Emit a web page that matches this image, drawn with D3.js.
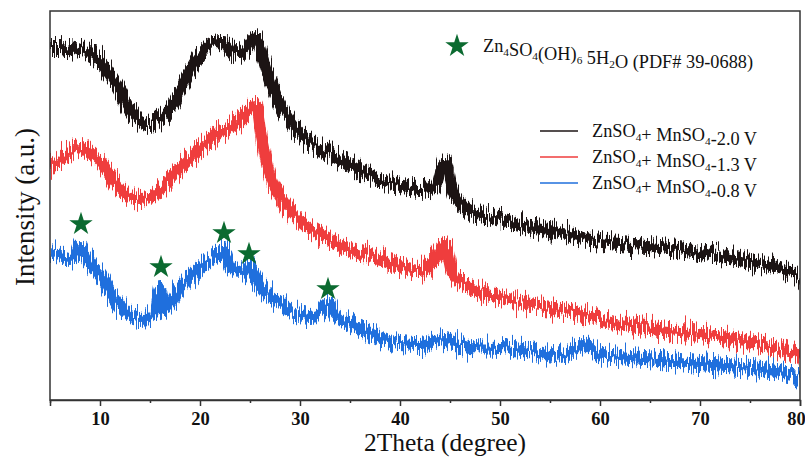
<!DOCTYPE html>
<html>
<head>
<meta charset="utf-8">
<script src="https://cdn.jsdelivr.net/npm/d3@7"></script>
<style>
  body { margin: 0; background: #fff; }
  svg { display: block; }
  text { font-family: "Liberation Serif", "Times New Roman", serif; fill: #111; }
</style>
</head>
<body>
<svg id="chart" width="805" height="457"></svg>
<script>
// 2θ positions (degree) shared by the three patterns
const theta = [5, 6, 7, 7.5, 8, 8.5, 9, 10, 11, 12, 13, 14, 15, 15.6, 16, 16.5, 17, 18, 19, 20, 21, 22,
  22.4, 23, 24, 24.9, 25.6, 26.2, 27, 28, 29, 30, 31, 32, 32.8, 33.5, 35, 37, 40, 42,
  43.5, 44.5, 45.3, 47, 50, 53.5, 55.5, 57, 58.3, 59.5, 62, 66, 70, 74, 77, 80];

// Intensity (a.u., stacked) of each pattern
const int20V = [355, 355, 353, 352, 350, 349, 346, 338, 325, 308, 290, 278, 275, 277, 280, 284, 290, 308, 328, 344, 354, 358,
  358, 350, 346, 355, 362, 345, 320, 295, 278, 267, 259, 252, 248, 244, 235, 225, 214, 210,
  212, 238, 207, 190, 180, 172, 169, 165, 162, 159, 156, 153, 148, 140, 134, 124];
const int13V = [232, 240, 248, 251, 253, 252, 247, 238, 225, 212, 204, 201, 203, 206, 210, 214, 220, 232, 242, 252, 260, 268,
  270, 273, 279, 288, 294, 260, 224, 204, 190, 180, 172, 166, 162, 158, 151, 144, 134, 130,
  140, 155, 125, 112, 103, 95, 91, 88, 85, 82, 76, 70, 66, 60, 54, 44];
const int08V = [148, 145, 142, 144, 154, 145, 137, 125, 108, 94, 84, 82, 85, 92, 110, 90, 95, 112, 122, 132, 140, 146,
  150, 135, 128, 133, 122, 112, 104, 97, 90, 86, 84, 87, 96, 86, 76, 67, 56, 55,
  59, 61, 58, 53, 52, 48, 43, 48, 56, 47, 43, 40, 36, 33, 30, 23];

const seriesNames = ["-2.0 V", "-1.3 V", "-0.8 V"];
const seriesColors = ["#1c1414", "#ef3d3d", "#1f6fdd"];
const seriesValues = [int20V, int13V, int08V];

// Zn4SO4(OH)6·5H2O reflections marked on the -0.8 V pattern
const markerTheta = [8.1, 16.1, 22.4, 24.9, 32.8];
const markerLevel = [176, 133, 167, 146, 111];

const xTicks = [10, 20, 30, 40, 50, 60, 70, 80];
const xMinorTicks = [5, 15, 25, 35, 45, 55, 65, 75];

const svg = d3.select("#chart");
const plot = { left: 50, right: 800, top: 11, bottom: 400 };

const x = d3.scaleLinear().domain([5, 80]).range([plot.left, plot.right]);
const y = d3.scaleLinear().domain([0, 389]).range([plot.bottom, plot.top]);

const defs = svg.append("defs");
defs.append("clipPath").attr("id", "plotClip")
  .append("rect")
  .attr("x", plot.left).attr("y", plot.top)
  .attr("width", plot.right - plot.left).attr("height", plot.bottom - plot.top);

// detector-noise texture for the traces
[3, 11, 27].forEach((seed, i) => {
  const f = defs.append("filter").attr("id", "trace" + i)
    .attr("filterUnits", "userSpaceOnUse")
    .attr("x", 30).attr("y", 0).attr("width", 790).attr("height", 430)
    .attr("color-interpolation-filters", "sRGB");
  f.append("feTurbulence").attr("type", "fractalNoise")
    .attr("baseFrequency", "0.8 0.03").attr("numOctaves", 2).attr("seed", seed).attr("result", "n");
  f.append("feColorMatrix").attr("in", "n").attr("type", "matrix")
    .attr("values", "0 0 0 0 0.5  0 1 0 0 0  0 0 0 0 0  0 0 0 0 1").attr("result", "m");
  f.append("feDisplacementMap").attr("in", "SourceGraphic").attr("in2", "m")
    .attr("scale", 30).attr("xChannelSelector", "R").attr("yChannelSelector", "G");
});

const line = d3.line()
  .x((d, i) => x(theta[i]))
  .y(d => y(d))
  .curve(d3.curveMonotoneX);

const traces = svg.append("g").attr("clip-path", "url(#plotClip)");
seriesValues.forEach((vals, i) => {
  traces.append("g").attr("filter", `url(#trace${i})`)
    .append("path")
    .attr("d", line(vals))
    .attr("fill", "none")
    .attr("stroke", seriesColors[i])
    .attr("stroke-width", 12)
    .attr("stroke-linejoin", "round");
});

// star markers
const star = d3.symbol().type(d3.symbolStar).size(170);
svg.append("g").selectAll("path")
  .data(markerTheta)
  .join("path")
  .attr("d", star)
  .attr("transform", (d, i) => `translate(${x(d)},${y(markerLevel[i])})`)
  .attr("fill", "#0b6a30");

// frame
svg.append("rect")
  .attr("x", plot.left).attr("y", plot.top)
  .attr("width", plot.right - plot.left).attr("height", plot.bottom - plot.top)
  .attr("fill", "none").attr("stroke", "#333").attr("stroke-width", 1.5);

// x axis
const xAxis = svg.append("g").attr("transform", `translate(0,${plot.bottom})`)
  .call(d3.axisBottom(x).tickValues(xTicks).tickSize(6).tickPadding(6).tickFormat(d3.format("d")));
xAxis.select(".domain").attr("stroke", "#333").attr("stroke-width", 1.5);
xAxis.selectAll(".tick line").attr("stroke", "#333").attr("stroke-width", 1.5);
xAxis.selectAll(".tick text")
  .attr("font-family", "Liberation Serif, serif").attr("font-size", 18.5).attr("font-weight", "bold").attr("fill", "#111")
  .attr("dx", d => d === 80 ? -4 : 0);
svg.append("g").attr("transform", `translate(0,${plot.bottom})`)
  .call(d3.axisBottom(x).tickValues(xMinorTicks).tickSize(3).tickFormat(""))
  .call(g => g.select(".domain").remove())
  .call(g => g.selectAll(".tick line").attr("stroke", "#333").attr("stroke-width", 1.5));

// axis titles
svg.append("text")
  .attr("x", 445).attr("y", 450.5)
  .attr("text-anchor", "middle").attr("font-size", 25.5)
  .text("2Theta (degree)");
svg.append("text")
  .attr("transform", `translate(34,207) rotate(-90)`)
  .attr("text-anchor", "middle").attr("font-size", 27)
  .text("Intensity (a.u.)");

// phase legend
svg.append("path").attr("d", star).attr("transform", "translate(457,46)").attr("fill", "#0b6a30");
function chem(sel, parts, size) {
  parts.forEach(p => {
    if (p.sub) {
      sel.append("tspan").attr("dy", 4).attr("font-size", size * 0.62).text(p.sub);
      sel.append("tspan").attr("dy", -4).text("");
    } else {
      sel.append("tspan").text(p.t);
    }
  });
}
const phase = svg.append("text").attr("x", 483).attr("y", 52).attr("font-size", 18.3);
chem(phase, [{ t: "Zn" }, { sub: "4" }, { t: "SO" }, { sub: "4" }, { t: "(OH)" }, { sub: "6" },
  { t: " 5H" }, { sub: "2" }, { t: "O (PDF# 39-0688)" }], 18.3);

// series legend
seriesNames.forEach((name, i) => {
  const ly = 131 + i * 26;
  svg.append("line").attr("x1", 540).attr("x2", 578).attr("y1", ly).attr("y2", ly)
    .attr("stroke", seriesColors[i]).attr("stroke-width", 1.6);
  const t = svg.append("text").attr("x", 592).attr("y", ly + 6).attr("font-size", 18.3);
  chem(t, [{ t: "ZnSO" }, { sub: "4" }, { t: "+ MnSO" }, { sub: "4" }, { t: name }], 18.3);
});
</script>
</body>
</html>
